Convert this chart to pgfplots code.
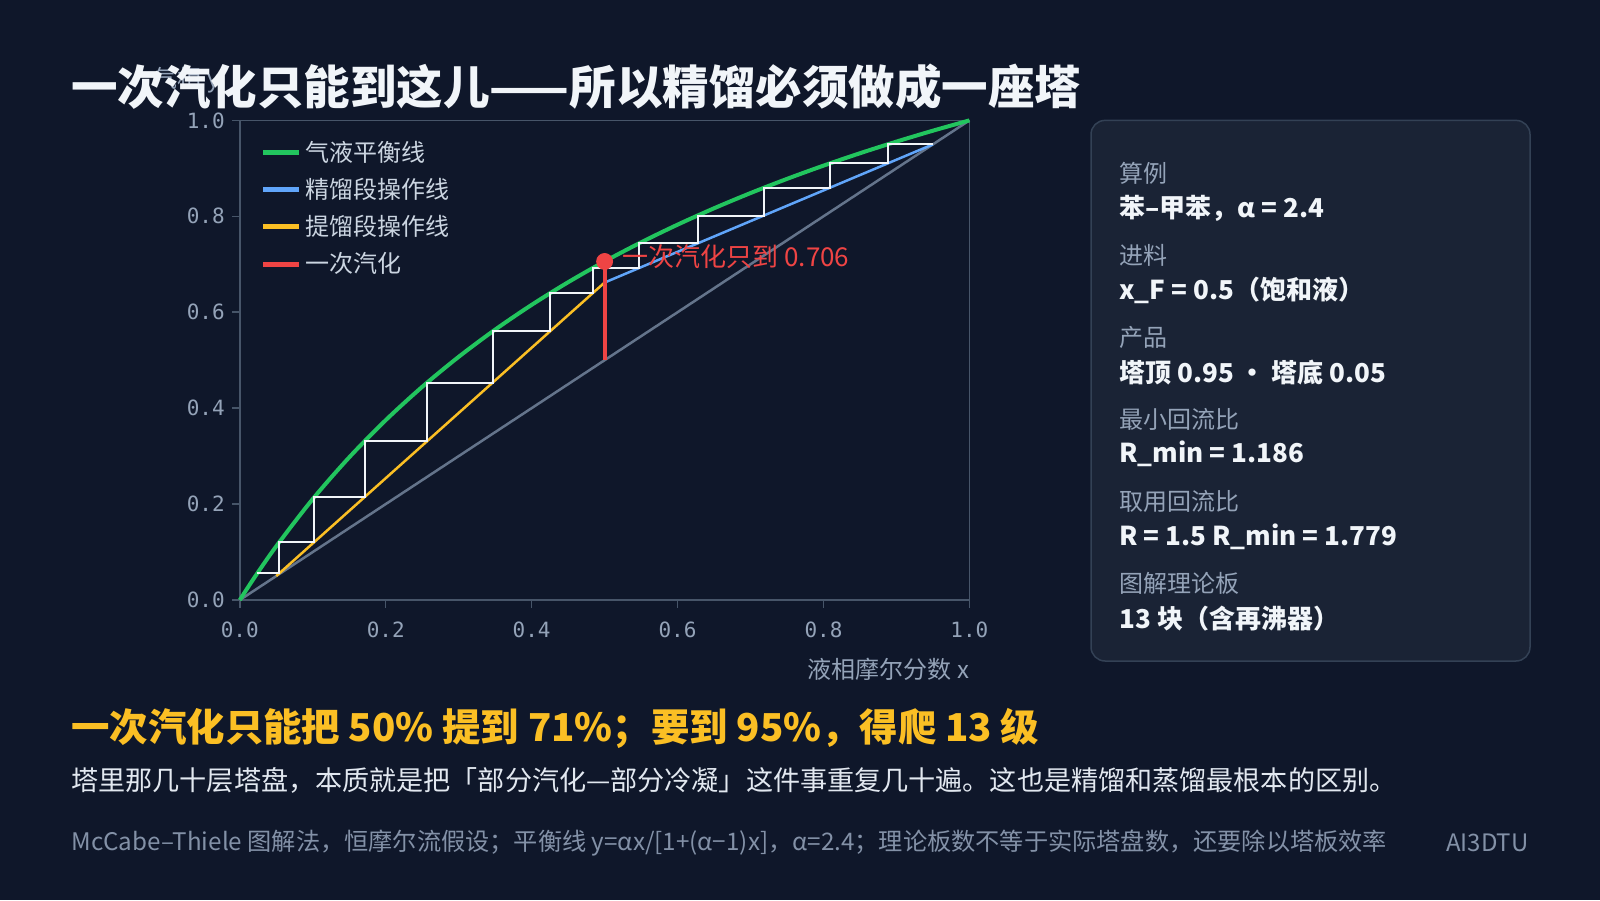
\documentclass[border=0pt]{standalone}
\usepackage{fontspec}
\usepackage{pgfplots}
\pgfplotsset{compat=1.18}
\setmainfont{Noto Sans CJK SC}
\newfontfamily\monof{DejaVu Sans Mono}
\definecolor{cbg}{HTML}{0F172A}
\definecolor{cpanel}{HTML}{1A2335}
\definecolor{cpanelb}{HTML}{334155}
\definecolor{cspine}{HTML}{475569}
\definecolor{ctick}{HTML}{94A3B8}
\definecolor{clabel}{HTML}{CBD5E1}
\definecolor{cgreen}{HTML}{22C55E}
\definecolor{cblue}{HTML}{60A5FA}
\definecolor{cyellow}{HTML}{FBBF24}
\definecolor{cred}{HTML}{EF4444}
\definecolor{cdiag}{HTML}{64748B}
\definecolor{cstair}{HTML}{F1F5F9}
\definecolor{ctitle}{HTML}{F1F5F9}
\definecolor{csub}{HTML}{E2E8F0}
\definecolor{cfoot}{HTML}{8391A7}
\begin{document}
\begin{tikzpicture}
\fill[cbg] (0,0) rectangle (800pt,450pt);
% y label (partly under the title)
\node[anchor=east, text=ctick, font=\fontsize{12}{14}\selectfont, inner sep=0pt] at (110pt,410pt) {气相 y};
% title
\node[anchor=west, text=ctitle, font=\fontsize{23.25}{27}\selectfont\bfseries, inner sep=0pt] at (35.5pt,406.5pt) {一次汽化只能到这儿——所以精馏必须做成一座塔};
% panel
\filldraw[fill=cpanel, draw=cpanelb, line width=0.75pt, rounded corners=7pt] (545.5pt,389.8pt) rectangle (765pt,119.5pt);
\begin{scope}[every node/.style={anchor=west, inner sep=0pt}]
\node[text=ctick, font=\fontsize{12}{14}\selectfont] at (559.5pt,363.25pt) {算例};
\node[text=ctitle, font=\fontsize{13}{15}\selectfont\bfseries] at (559.5pt,345.9pt) {苯–甲苯，α = 2.4};
\node[text=ctick, font=\fontsize{12}{14}\selectfont] at (559.5pt,322.2pt) {进料};
\node[text=ctitle, font=\fontsize{13}{15}\selectfont\bfseries] at (559.5pt,304.6pt) {x\_F = 0.5（饱和液）};
\node[text=ctick, font=\fontsize{12}{14}\selectfont] at (559.5pt,281.15pt) {产品};
\node[text=ctitle, font=\fontsize{13}{15}\selectfont\bfseries] at (559.5pt,263.8pt) {塔顶 0.95 · 塔底 0.05};
\node[text=ctick, font=\fontsize{12}{14}\selectfont] at (559.5pt,240.3pt) {最小回流比};
\node[text=ctitle, font=\fontsize{13}{15}\selectfont\bfseries] at (559.5pt,223pt) {R\_min = 1.186};
\node[text=ctick, font=\fontsize{12}{14}\selectfont] at (559.5pt,199.25pt) {取用回流比};
\node[text=ctitle, font=\fontsize{13}{15}\selectfont\bfseries] at (559.5pt,181.65pt) {R = 1.5 R\_min = 1.779};
\node[text=ctick, font=\fontsize{12}{14}\selectfont] at (559.5pt,158.15pt) {图解理论板};
\node[text=ctitle, font=\fontsize{13}{15}\selectfont\bfseries] at (559.5pt,140.8pt) {13 块（含再沸器）};
% bottom texts
\node[text=cyellow, font=\fontsize{19.2}{22}\selectfont\bfseries] at (35.5pt,85.7pt) {一次汽化只能把 50\% 提到 71\%；要到 95\%，得爬 13 级};
\node[text=csub, font=\fontsize{13.55}{15}\selectfont] at (35.5pt,60pt) {塔里那几十层塔盘，本质就是把「部分汽化—部分冷凝」这件事重复几十遍。这也是精馏和蒸馏最根本的区别。};
\node[text=cfoot, font=\fontsize{12.1}{14}\selectfont] at (35.5pt,28.5pt) {McCabe–Thiele 图解法，恒摩尔流假设；平衡线 y=αx/[1+(α−1)x]，α=2.4；理论板数不等于实际塔盘数，还要除以塔板效率};
\node[anchor=east, text=cfoot, font=\fontsize{12}{14}\selectfont] at (764.5pt,28.5pt) {AI3DTU};
\node[anchor=east, text=ctick, font=\fontsize{12}{14}\selectfont] at (484.7pt,115.5pt) {液相摩尔分数 x};
\end{scope}
\begin{axis}[
  at={(119.9pt,150pt)}, anchor=south west, scale only axis,
  width=364.8pt, height=239.8pt,
  xmin=0, xmax=1, ymin=0, ymax=1,
  axis line style={cspine, line width=0.75pt},
  xtick={0,0.2,0.4,0.6,0.8,1}, xticklabels={0.0,0.2,0.4,0.6,0.8,1.0},
  ytick={0,0.2,0.4,0.6,0.8,1}, yticklabels={0.0,0.2,0.4,0.6,0.8,1.0},
  tick pos=left, tick align=outside, major tick length=4pt,
  tick style={cspine, line width=0.75pt},
  ticklabel style={font=\monof\fontsize{10.5}{12}\selectfont, text=ctick},
  xticklabel style={yshift=-3.5pt},
  legend style={at={(0.02,0.975)}, anchor=north west, draw=none, fill=none,
    font=\fontsize{12}{14}\selectfont, text=clabel, row sep=3pt},
  legend cell align=left,
  legend image code/.code={\draw[#1, line width=2.5pt] (0pt,0pt) -- (18pt,0pt);},
  clip=false,
]
\addplot[cdiag, line width=1.25pt, forget plot] coordinates {(0,0) (1,1)};
\addplot[cgreen, line width=2pt, smooth] coordinates {
(0,0) (0.02,0.04669) (0.05,0.11215) (0.1,0.21053) (0.15,0.29752) (0.2,0.375)
(0.25,0.44444) (0.3,0.50704) (0.35,0.56376) (0.4,0.61538) (0.45,0.66258)
(0.5,0.70588) (0.55,0.74576) (0.6,0.78261) (0.65,0.81675) (0.7,0.84848)
(0.75,0.87805) (0.8,0.90566) (0.85,0.93151) (0.9,0.95575) (0.95,0.97854) (1,1)};
\addlegendentry{气液平衡线}
\addplot[cblue, line width=1.25pt] coordinates {(0.5,0.66193) (0.95,0.95)};
\addlegendentry{精馏段操作线}
\addplot[cyellow, line width=1.25pt] coordinates {(0.05,0.05) (0.5,0.66193)};
\addlegendentry{提馏段操作线}
\addplot[cstair, line width=1pt, forget plot] coordinates {
(0.95,0.95) (0.88785,0.95) (0.88785,0.91021) (0.80857,0.91021) (0.80857,0.85946)
(0.71816,0.85946) (0.71816,0.80159) (0.62734,0.80159) (0.62734,0.74345)
(0.54699,0.74345) (0.54699,0.69201) (0.48352,0.69201) (0.48352,0.63952)
(0.42502,0.63952) (0.42502,0.55997) (0.34651,0.55997) (0.34651,0.45321)
(0.25670,0.45321) (0.25670,0.33108) (0.17097,0.33108) (0.17097,0.21450)
(0.10216,0.21450) (0.10216,0.12093) (0.05421,0.12093) (0.05421,0.05573)
(0.02400,0.05573)};
\addplot[cred, line width=2pt] coordinates {(0.5,0.5) (0.5,0.70588)};
\addlegendentry{一次汽化}
\addplot[only marks, mark=*, mark size=4pt, cred, forget plot] coordinates {(0.5,0.70588)};
\node[anchor=west, text=cred, font=\fontsize{13}{15}\selectfont] at (axis cs:0.515,0.716) {一次汽化只到 0.706};
\end{axis}
\end{tikzpicture}
\end{document}
